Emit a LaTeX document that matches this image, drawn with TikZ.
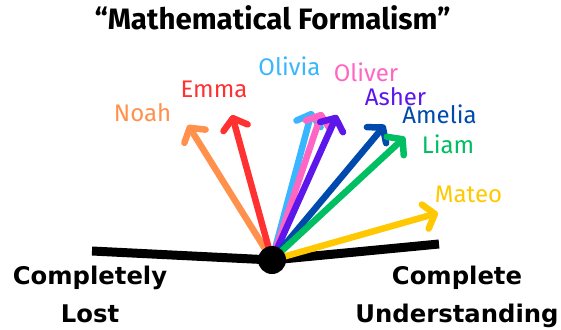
\documentclass[tikz,border=0pt]{standalone}
\usepackage{fontspec}
\setmainfont{Fira Sans}
\newfontfamily\axisfont{DejaVu Sans}
\usetikzlibrary{arrows.meta}
\definecolor{cnoah}{HTML}{FF914D}
\definecolor{cemma}{HTML}{FF3131}
\definecolor{colivia}{HTML}{38B6FF}
\definecolor{coliver}{HTML}{FF66C4}
\definecolor{casher}{HTML}{5E17EB}
\definecolor{camelia}{HTML}{004AAD}
\definecolor{cliam}{HTML}{00BF63}
\definecolor{cmateo}{HTML}{FFC800}
\begin{document}
\begin{tikzpicture}[x=1pt,y=-1pt,
  vote/.style={line width=6.5pt, line cap=round, line join=round,
    -{Straight Barb[length=10pt,width=25pt,round]}},
  pname/.style={anchor=base, inner sep=0pt, font=\fontsize{24}{24}\selectfont},
  axislabel/.style={anchor=base, inner sep=0pt, align=center,
    font=\axisfont\bfseries\fontsize{24.3}{37.5}\selectfont},
  dot/.style={circle, fill=black, minimum size=28pt, inner sep=0pt}]
\useasboundingbox (0,0) rectangle (561,329);
\node[anchor=base, inner sep=0pt, font=\bfseries\fontsize{29.5}{29.5}\selectfont] (title) at (272.5,30) {“Mathematical Formalism”};
\coordinate (o) at (272,260);
\coordinate (lend) at (92,251);
\coordinate (rend) at (439,244);
\draw[line width=9pt] (lend) -- (o) -- (rend);
\coordinate (tnoah) at (188,125);
\coordinate (temma) at (232,115);
\coordinate (tolivia) at (312,111);
\coordinate (toliver) at (322,112);
\coordinate (tasher) at (337,115);
\coordinate (tamelia) at (385,125);
\coordinate (tliam) at (405,137);
\coordinate (tmateo) at (438,213);
\draw[vote, cnoah] (o) -- (tnoah);
\draw[vote, cemma] (o) -- (temma);
\draw[vote, colivia] (o) -- (tolivia);
\draw[vote, coliver] (o) -- (toliver);
\draw[vote, casher] (o) -- (tasher);
\draw[vote, camelia] (o) -- (tamelia);
\draw[vote, cliam] (o) -- (tliam);
\draw[vote, cmateo] (o) -- (tmateo);
\node[dot] (c) at (o) {};
\node[pname, text=cnoah] (noah) at (142.5,121) {Noah};
\node[pname, text=cemma] (emma) at (214,97) {Emma};
\node[pname, text=colivia] (olivia) at (289.5,75.5) {Olivia};
\node[pname, text=coliver] (oliver) at (366,81) {Oliver};
\node[pname, text=casher] (asher) at (395.5,105.3) {Asher};
\node[pname, text=camelia] (amelia) at (439.5,123.5) {Amelia};
\node[pname, text=cliam] (liam) at (448,153) {Liam};
\node[pname, text=cmateo] (mateo) at (468.5,202) {Mateo};
\node[axislabel] (lost) at (90,322) {Completely\\Lost};
\node[axislabel] (under) at (457,322) {Complete\\Understanding};
\end{tikzpicture}
\end{document}
